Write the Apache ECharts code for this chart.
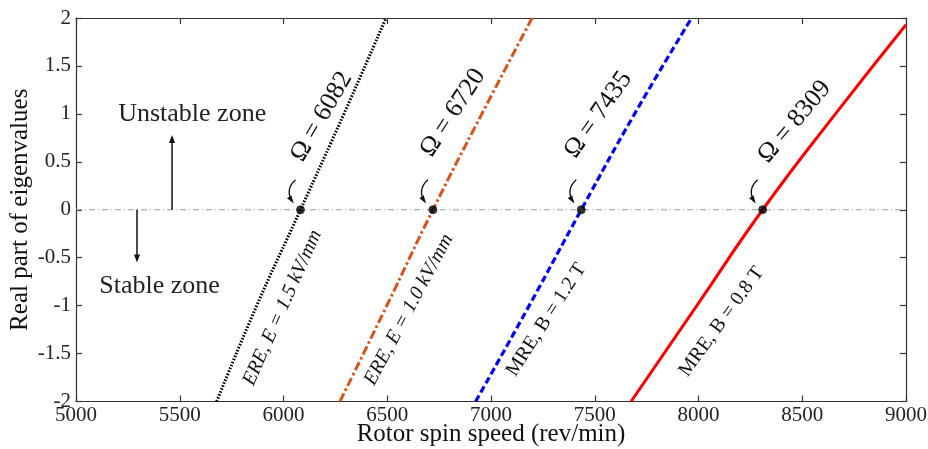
<!DOCTYPE html>
<html>
<head>
<meta charset="utf-8">
<script src="https://cdn.jsdelivr.net/npm/echarts@6/dist/echarts.min.js"></script>
<style>
  html, body { margin: 0; padding: 0; background: #fff; }
  #chart { width: 928px; height: 449px; }
</style>
</head>
<body>
<div id="chart"></div>
<script>
// Real part of the critical eigenvalue vs. rotor spin speed
const realPart = [-2, -1, 0, 1, 2];
const speedERE15 = [5678, 5871, 6082, 6291, 6494];
const speedERE10 = [6272, 6498, 6720, 6956, 7198];
const speedMRE12 = [6926, 7184, 7435, 7692, 7967];
const realPartMRE08 = [-2, -1, 0, 1, 1.93];
const speedMRE08 = [7675, 7992, 8309, 8660, 9000];

// Onset-of-instability speeds (real part crosses zero)
const criticalSpeeds = [6082, 6720, 7435, 8309];
const criticalLabels = ['Ω = 6082', 'Ω = 6720', 'Ω = 7435', 'Ω = 8309'];
const curveLabels = ['ERE, E = 1.5 kV/mm', 'ERE, E = 1.0 kV/mm', 'MRE, B = 1.2 T', 'MRE, B = 0.8 T'];

const xTicks = { min: 5000, max: 9000, interval: 500 };
const yTicks = { min: -2, max: 2, interval: 0.5 };

const SERIF = '"Liberation Serif", "DejaVu Serif", serif';

function pairs(xs, ys) { return xs.map((x, i) => [x, ys[i]]); }

const chart = echarts.init(document.getElementById('chart'), null, { renderer: 'canvas' });

const axisCommon = {
  type: 'value',
  axisLine: { show: true, onZero: false, lineStyle: { color: '#333', width: 1.2 } },
  axisTick: { show: true, inside: true, length: 6, lineStyle: { color: '#333', width: 1.2 } },
  splitLine: { show: false },
};

const plain = v => String(v);

const option = {
  animation: false,
  backgroundColor: '#fff',
  grid: { left: 76, right: 22, top: 18, bottom: 47.5, containLabel: false, outerBoundsMode: 'none' },
  xAxis: [
    Object.assign({}, axisCommon, {
      position: 'bottom', min: xTicks.min, max: xTicks.max, interval: xTicks.interval,
      name: 'Rotor spin speed (rev/min)', nameLocation: 'middle', nameGap: 20, nameMoveOverlap: false,
      nameTextStyle: { fontFamily: SERIF, fontSize: 25, color: '#111' },
      axisLabel: { fontFamily: SERIF, fontSize: 21, color: '#222', margin: 3, formatter: plain },
    }),
    Object.assign({}, axisCommon, {
      position: 'top', min: xTicks.min, max: xTicks.max, interval: xTicks.interval,
      axisLabel: { show: false },
    }),
  ],
  yAxis: [
    Object.assign({}, axisCommon, {
      position: 'left', min: yTicks.min, max: yTicks.max, interval: yTicks.interval,
      name: 'Real part of eigenvalues', nameLocation: 'middle', nameGap: 43, nameMoveOverlap: false,
      nameTextStyle: { fontFamily: SERIF, fontSize: 25, color: '#111' },
      axisLabel: { fontFamily: SERIF, fontSize: 21, color: '#222', margin: 5, formatter: plain },
    }),
    Object.assign({}, axisCommon, {
      position: 'right', min: yTicks.min, max: yTicks.max, interval: yTicks.interval,
      axisLabel: { show: false },
    }),
  ],
  series: [
    {
      name: 'zero', type: 'line', silent: true, symbol: 'none',
      data: [[xTicks.min, 0], [xTicks.max, 0]],
      lineStyle: { color: '#9a9a9a', width: 1, type: [6, 3, 1, 3] }, z: 1,
    },
    {
      name: curveLabels[0], type: 'line', symbol: 'none', smooth: true,
      data: pairs(speedERE15, realPart),
      lineStyle: { color: '#000', width: 3, type: [1.6, 1.6] },
    },
    {
      name: curveLabels[1], type: 'line', symbol: 'none', smooth: true,
      data: pairs(speedERE10, realPart),
      lineStyle: { color: '#d95319', width: 3, type: [9, 3, 2.5, 3] },
    },
    {
      name: curveLabels[2], type: 'line', symbol: 'none', smooth: true,
      data: pairs(speedMRE12, realPart),
      lineStyle: { color: '#0000ff', width: 3.2, type: [7, 3.5] },
    },
    {
      name: curveLabels[3], type: 'line', symbol: 'none', smooth: true,
      data: pairs(speedMRE08, realPartMRE08),
      lineStyle: { color: '#ff0000', width: 3 },
    },
    {
      name: 'critical', type: 'scatter', symbol: 'circle', symbolSize: 8,
      data: criticalSpeeds.map(s => [s, 0]),
      itemStyle: { color: '#000', borderColor: '#222', borderWidth: 1 }, z: 5,
    },
  ],
};

chart.setOption(option);

// Annotations placed relative to the data points
const px = (x, y) => chart.convertToPixel({ gridIndex: 0 }, [x, y]);
const deg = d => d * Math.PI / 180;

// offsets (px) of the Ω label centre and curve label centre from each crossing point, and their angles
const omegaOffsets = [[21, -93, 60], [20, -97, 57], [17, -95, 55], [32, -88, 50]];
const curveOffsets = [[-18, 98, 66], [-24, 100, 62], [-35, 110, 57], [-41, 112, 54]];
const curveItalic = [true, true, false, false];

const graphics = [];

criticalSpeeds.forEach((s, i) => {
  const [cx, cy] = px(s, 0);
  const o = omegaOffsets[i];
  graphics.push({
    type: 'text', x: cx + o[0], y: cy + o[1], rotation: deg(o[2]), z: 10,
    style: { text: criticalLabels[i], font: '26px ' + SERIF, fill: '#111', align: 'center', verticalAlign: 'middle' },
  });
  const c = curveOffsets[i];
  graphics.push({
    type: 'text', x: cx + c[0], y: cy + c[1], rotation: deg(c[2]), z: 10,
    style: {
      text: curveLabels[i], font: (curveItalic[i] ? 'italic ' : '') + '20px ' + SERIF,
      fill: '#111', align: 'center', verticalAlign: 'middle',
    },
  });
  // small hooked pointer from the Ω label to the crossing point
  const sx = cx - 5, sy = cy - 30, qx = cx - 16, qy = cy - 20, ex = cx - 8, ey = cy - 8;
  graphics.push({
    type: 'bezierCurve', z: 10,
    shape: { x1: sx, y1: sy, cpx1: qx, cpy1: qy, x2: ex, y2: ey },
    style: { stroke: '#111', lineWidth: 1.3, fill: null },
  });
  const ang = Math.atan2(ey - qy, ex - qx);
  const L = 6, W = 2.6;
  graphics.push({
    type: 'polygon', z: 10,
    shape: { points: [
      [ex + Math.cos(ang) * 2, ey + Math.sin(ang) * 2],
      [ex - Math.cos(ang) * L + Math.sin(ang) * W, ey - Math.sin(ang) * L - Math.cos(ang) * W],
      [ex - Math.cos(ang) * L - Math.sin(ang) * W, ey - Math.sin(ang) * L + Math.cos(ang) * W],
    ] },
    style: { fill: '#111' },
  });
});

// stability zone arrows and captions
function vArrow(x, y0, y1) {
  const [ax, ay0] = px(x, y0);
  const [, ay1] = px(x, y1);
  const dir = ay1 < ay0 ? -1 : 1;
  graphics.push({
    type: 'line', z: 10,
    shape: { x1: ax, y1: ay0, x2: ax, y2: ay1 - dir * 5 },
    style: { stroke: '#111', lineWidth: 1.5 },
  });
  graphics.push({
    type: 'polygon', z: 10,
    shape: { points: [[ax, ay1], [ax - 3, ay1 - dir * 8], [ax + 3, ay1 - dir * 8]] },
    style: { fill: '#111' },
  });
}
vArrow(5463, 0, 0.78);
vArrow(5294, 0, -0.55);

const [ux, uy] = px(5560, 1.0);
graphics.push({
  type: 'text', x: ux, y: uy, z: 10,
  style: { text: 'Unstable zone', font: '26px ' + SERIF, fill: '#222', align: 'center', verticalAlign: 'middle' },
});
const [sx2, sy2] = px(5403, -0.8);
graphics.push({
  type: 'text', x: sx2, y: sy2, z: 10,
  style: { text: 'Stable zone', font: '26px ' + SERIF, fill: '#222', align: 'center', verticalAlign: 'middle' },
});

chart.setOption({ graphic: graphics });
</script>
</body>
</html>
